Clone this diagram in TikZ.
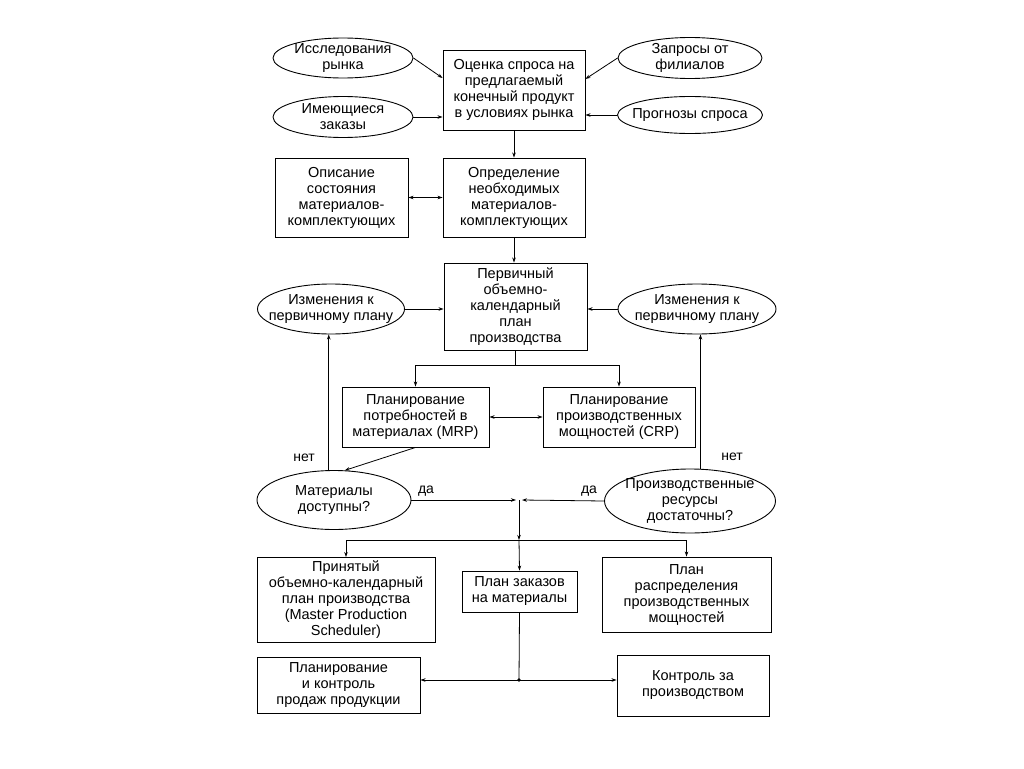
\documentclass[tikz,border=0pt]{standalone}
\usepackage{fontspec}
\setmainfont{Liberation Sans}
\usetikzlibrary{shapes.geometric,arrows.meta,calc}
\begin{document}
\begin{tikzpicture}[x=1pt,y=-1pt,
  every node/.style={font=\fontsize{14.5}{16}\selectfont, align=center, inner sep=0pt},
  box/.style={draw, line width=0.9pt, rectangle},
  oval/.style={draw, line width=0.9pt, ellipse},
  con/.style={line width=0.8pt},
  arr/.style={con, -{Stealth[length=5pt,width=3.5pt]}},
  darr/.style={con, {Stealth[length=5pt,width=3.5pt]}-{Stealth[length=5pt,width=3.5pt]}},
  lbl/.style={font=\fontsize{14}{16}\selectfont}
]
\useasboundingbox[fill=white] (0,0) rectangle (1024,768);

% top row
\node[oval, minimum width=140pt, minimum height=40pt] (e1) at (343,58) {};
\node (t1) at (e1) {Исследования\\рынка};
\node[oval, minimum width=144pt, minimum height=41pt] (e2) at (690,58) {};
\node (t2) at (e2) {Запросы от\\филиалов};
\node[oval, minimum width=140pt, minimum height=41pt] (e3) at (343,117) {};
\node (t3) at (e3) {Имеющиеся\\заказы};
\node[oval, minimum width=145pt, minimum height=37pt] (e4) at (690,115) {};
\node (t4) at (e4) {Прогнозы спроса};
\node[box, minimum width=142pt, minimum height=80pt] (b1) at (514,90) {Оценка спроса на\\предлагаемый\\конечный продукт\\в условиях рынка};

\node[box, minimum width=133pt, minimum height=79pt] (b2) at (341.5,197.5) {Описание\\состояния\\материалов-\\комплектующих};
\node[box, minimum width=142pt, minimum height=79pt] (b3) at (514,197.5) {Определение\\необходимых\\материалов-\\комплектующих};

\node[box, minimum width=143pt, minimum height=87pt] (b4) at (515.5,306.5) {Первичный\\объемно-\\календарный\\план\\производства};
\node[oval, minimum width=147pt, minimum height=50pt] (e5) at (331,309) {};
\node (t5) at (e5) {Изменения к\\первичному плану};
\node[oval, minimum width=158pt, minimum height=50pt] (e6) at (697,309) {};
\node (t6) at (e6) {Изменения к\\первичному плану};

\node[box, minimum width=147pt, minimum height=60pt] (b5) at (415.5,417) {Планирование\\потребностей в\\материалах (MRP)};
\node[box, minimum width=152pt, minimum height=60pt] (b6) at (619,417) {Планирование\\производственных\\мощностей (CRP)};

\node[oval, minimum width=154pt, minimum height=59pt] (e7) at (334,500) {};
\node (t7) at (e7) {Материалы\\доступны?};
\node[oval, minimum width=171pt, minimum height=64pt] (e8) at (690,501) {};
\node (t8) at (e8) {Производственные\\ресурсы\\достаточны?};

\node[box, minimum width=178pt, minimum height=85pt] (b7) at (346,600) {Принятый\\объемно-календарный\\план производства\\(Master Production\\Scheduler)};
\node[box, minimum width=115pt, minimum height=41pt] (b8) at (519.5,591.5) {План заказов\\на материалы};
\node[box, minimum width=169pt, minimum height=75pt] (b9) at (686.5,594.5) {План\\распределения\\производственных\\мощностей};

\node[box, minimum width=163pt, minimum height=56pt] (b10) at (338.5,685) {Планирование\\и контроль\\продаж продукции};
\node[box, minimum width=152pt, minimum height=61pt] (b11) at (693,685.5) {Контроль за\\производством};

% labels
\node[lbl] (n1) at (304,458) {нет};
\node[lbl] (n2) at (732,457) {нет};
\node[lbl] (d1) at (426,491) {да};
\node[lbl] (d2) at (589,491) {да};

% coordinates
\coordinate (j1) at (515.5,365);
\coordinate (jl) at (516,500);
\coordinate (jr) at (522,500);
\coordinate (jc) at (519,500);
\coordinate (jd) at (519,540);
\coordinate (jb) at (519,680);

% connectors top
\draw[arr] (e1.east) -- ([yshift=12pt]b1.west);
\draw[arr] (e2.west) -- ([yshift=11pt]b1.east);
\draw[arr] (e3.east) -- (e3.east -| b1.west);
\draw[arr] (e4.west) -- (e4.west -| b1.east);
\draw[arr] (b1.south) -- (b3.north);
\draw[darr] (b2.east) -- (b3.west);
\draw[arr] (b3.south) -- (b3.south |- b4.north);
\draw[arr] (e5.east) -- (e5.east -| b4.west);
\draw[arr] (e6.west) -- (e6.west -| b4.east);

% split to MRP/CRP
\draw[con] (b4.south) -- (j1);
\draw[arr] (j1) -| (b5.north);
\draw[arr] (j1) -| (b6.north);
\draw[darr] (b5.east) -- (b6.west);

% decisions
\draw[arr] (b5.south) -- (e7.70);
\draw[arr] (e7.100) -- (e7.100 |- e5.south);
\draw[arr] (e8.72) -- (e8.72 |- e6.south);
\draw[arr] (e7.east) -- (jl);
\draw[arr] (e8.west) -- (jr);
\draw[arr] (jc) -- (jd);

% distribution
\draw[con] (jd -| b7.north) -- (jd -| b9.north);
\draw[arr] (jd -| b7.north) -- (b7.north);
\draw[arr] (jd) -- (b8.north);
\draw[arr] (jd -| b9.north) -- (b9.north);

% bottom
\draw[con] (b8.south) -- (jb);
\fill (jb) circle (1.8pt);
\draw[arr] (jb) -- (jb -| b10.east);
\draw[arr] (jb) -- (jb -| b11.west);
\end{tikzpicture}
\end{document}
